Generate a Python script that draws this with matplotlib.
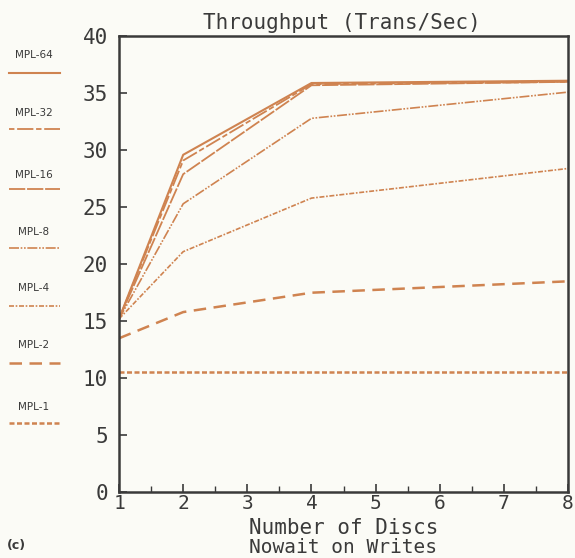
import matplotlib
matplotlib.use('Agg')
import matplotlib.pyplot as plt
from matplotlib.lines import Line2D

discs = [1, 2, 4, 8]
mpl_64 = [15.2, 29.6, 35.9, 36.1]
mpl_32 = [15.2, 29.1, 35.8, 36.0]
mpl_16 = [15.2, 27.9, 35.7, 36.0]
mpl_8 = [15.2, 25.3, 32.8, 35.1]
mpl_4 = [15.2, 21.1, 25.8, 28.4]
mpl_2 = [13.5, 15.8, 17.5, 18.5]
mpl_1 = [10.5, 10.5, 10.5, 10.5]

labels = ["MPL-64", "MPL-32", "MPL-16", "MPL-8", "MPL-4", "MPL-2", "MPL-1"]
series = [mpl_64, mpl_32, mpl_16, mpl_8, mpl_4, mpl_2, mpl_1]
styles = ['-',
          (0, (3, 1.5, 9, 1.5)),
          (0, (9, 1)),
          (0, (6, 1, 1, 1, 1, 1)),
          (0, (3, 1, 1, 1)),
          (0, (5, 3)),
          (0, (2, 1))]
widths = [1.5, 1.3, 1.3, 1.2, 1.2, 1.8, 1.8]

orange = '#cf8350'
ink = '#3a3a3a'
mono = 'DejaVu Sans Mono'

fig = plt.figure(figsize=(5.75, 5.58), dpi=100, facecolor='#fbfbf6')
ax = fig.add_axes([0.207, 0.118, 0.781, 0.817])
ax.set_facecolor('#fbfbf6')

for ys, ls, lw in zip(series, styles, widths):
    ax.plot(discs, ys, color=orange, linestyle=ls, linewidth=lw)

ax.set_xlim(1, 8)
ax.set_ylim(0, 40)
ax.set_xticks(range(1, 9))
ax.set_xticks([i + 0.5 for i in range(1, 8)], minor=True)
ax.set_yticks(range(0, 41, 5))
ax.tick_params(direction='in', length=6, width=1.2, color=ink,
               labelsize=15, labelcolor=ink)
ax.tick_params(axis='y', pad=8)
ax.tick_params(axis='x', pad=1, labelsize=14)
ax.tick_params(which='minor', direction='in', length=4, width=1.0, color=ink)
for lab in ax.get_xticklabels() + ax.get_yticklabels():
    lab.set_family(mono)
    lab.set_fontweight('light')
for sp in ax.spines.values():
    sp.set_color(ink)
    sp.set_linewidth(1.8)

fig.text(0.595, 0.94, "Throughput (Trans/Sec)", ha='center', va='bottom',
         family=mono, fontsize=15, color=ink)
fig.text(0.597, 0.054, "Number of Discs", ha='center', va='center',
         family=mono, fontsize=15, color=ink)
fig.text(0.597, 0.018, "Nowait on Writes", ha='center', va='center',
         family=mono, fontsize=14, color=ink)
fig.text(0.012, 0.022, "(c)", ha='left', va='center',
         fontsize=9, fontweight='bold', color=ink)

# legend down the left side
text_y = [55, 113, 175, 232, 288, 345, 407]
line_y = [73, 129, 189, 248, 306, 363, 423]
for lab, ls, lw, ty, ly in zip(labels, styles, widths, text_y, line_y):
    fig.text(34 / 575, 1 - ty / 558, lab, ha='center', va='center',
             fontsize=7.5, color=ink)
    fig.add_artist(Line2D([9 / 575, 60 / 575], [1 - ly / 558, 1 - ly / 558],
                          transform=fig.transFigure, color=orange,
                          linestyle=ls, linewidth=lw))

fig.savefig('out.png', dpi=100, facecolor=fig.get_facecolor())
